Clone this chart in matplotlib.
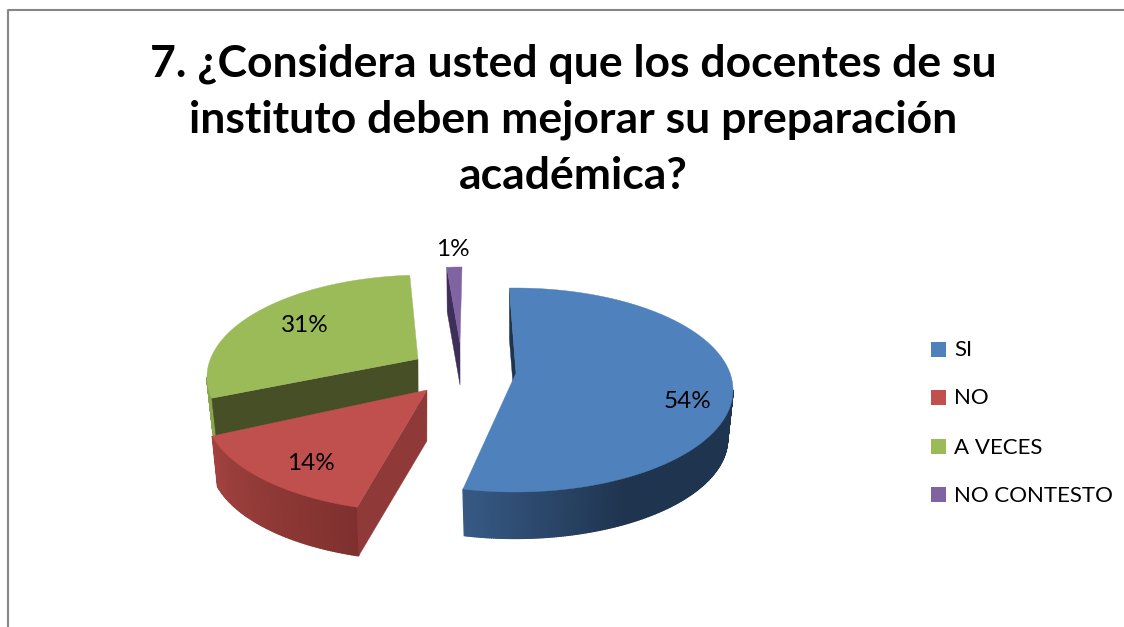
import numpy as np
import matplotlib
matplotlib.use('Agg')
import matplotlib.pyplot as plt
from matplotlib.colors import to_rgb
from matplotlib.patches import Polygon, Rectangle

title = '7. ¿Considera usted que los docentes de su\ninstituto deben mejorar su preparación\nacadémica?'
categories = ['SI', 'NO', 'A VECES', 'NO CONTESTO']
values = [54, 14, 31, 1]

colors = ['#4f81bd', '#c0504d', '#9bbb59', '#8064a2']
cut_colors = ['#1f344f', '#8f3a38', '#474f26', '#3f2e5a']
rim_light = ['#3a5f8c', '#a2423f', '#8aa54f', '#3f2e5a']
rim_dark = ['#1f344f', '#7e302e', '#8aa54f', '#3f2e5a']
rim_range = [(150, 200), (197, 255), (258, 270), (0, 1)]

# picture layout of the exploded slices, in pixels
centers = [(515, 390), (423, 410), (425, 377), (462, 369)]
apexes = [(516, 373), (427, 390), (418, 359), (460, 343)]
angle_shift = [(-1.5, -0.6), (3.2, 10.4), (13.2, -0.4), (-0.4, 0)]
rx, ry = 218, 102
depths = [49, 51, 48, 42]
shrink = 0.975
label_pos = [(688, 402), (311, 464), (305, 325), (453, 250)]
draw_order = [3, 0, 2, 1]


def rim(center, angle, depth=None):
    a = np.radians(angle)
    if depth is not None:
        return (center[0] + shrink * rx * np.sin(a), center[1] + depth - shrink * ry * np.cos(a))
    return (center[0] + rx * np.sin(a), center[1] - ry * np.cos(a))


def wall(ax, center, apex, angle, depth, color):
    low_apex = (apex[0] + (1 - shrink) * (center[0] - apex[0]), apex[1] + depth)
    pts = [apex, rim(center, angle), rim(center, angle, depth), low_apex]
    ax.add_patch(Polygon(pts, closed=True, fc=color, ec=color, lw=0.3))


def draw_slice(ax, i, a0, a1):
    center, apex, depth = centers[i], apexes[i], depths[i]
    # the outer wall, cut in thin strips for the shading
    edges = np.linspace(a0, a1, int(a1 - a0) * 2 + 2)
    lo, hi = rim_range[i]
    dark, light = np.array(to_rgb(rim_dark[i])), np.array(to_rgb(rim_light[i]))
    for e0, e1 in zip(edges[:-1], edges[1:]):
        if np.cos(np.radians((e0 + e1) / 2)) > 0:
            continue
        t = np.clip(((e0 + e1) / 2 - lo) / (hi - lo), 0, 1)
        col = dark + (light - dark) * t
        pts = [rim(center, e0), rim(center, e1), rim(center, e1, depth), rim(center, e0, depth)]
        ax.add_patch(Polygon(pts, closed=True, fc=col, ec=col, lw=1.0))
    # the cut side that faces the viewer
    wall(ax, center, apex, a0, depth, cut_colors[i])
    top = [apex] + [rim(center, a) for a in edges]
    ax.add_patch(Polygon(top, closed=True, fc=colors[i], ec=colors[i], lw=0.3))


fig = plt.figure(figsize=(11.24, 6.27), dpi=100)
ax = fig.add_axes([0, 0, 1, 1])
ax.set_xlim(0, 1124)
ax.set_ylim(627, 0)
ax.axis('off')

# chart frame
ax.plot([8, 8, 1124], [627, 10, 10], color='#868686', lw=1.5)

bounds = np.cumsum([0] + values) / sum(values) * 360
for i in draw_order:
    draw_slice(ax, i, bounds[i] + angle_shift[i][0], bounds[i + 1] + angle_shift[i][1])

for i, v in enumerate(values):
    ax.text(label_pos[i][0], label_pos[i][1], f'{v}%', ha='center', va='center',
            fontsize=17.5, family='Lato', color='black')

ax.text(573, 120, title, ha='center', va='center', fontsize=32, family='Lato',
        fontweight='bold', color='black', linespacing=1.47)

# legend
legend_y = [349, 397, 446, 494]
for i, name in enumerate(categories):
    ax.add_patch(Rectangle((931, legend_y[i] - 7.5), 15, 15, fc=colors[i], ec='none'))
    ax.text(954, legend_y[i] + 1.5, name, ha='left', va='center', fontsize=16, family='Lato', color='black')

fig.savefig('out.png', dpi=100)
